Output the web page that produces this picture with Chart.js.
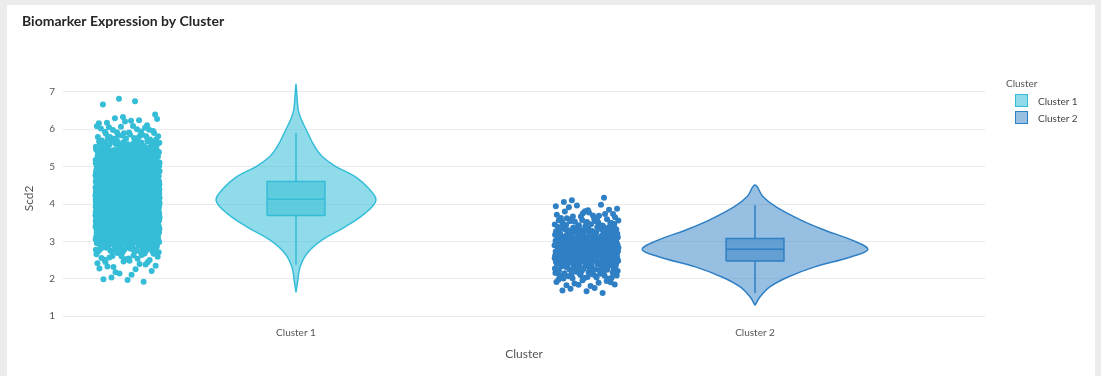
<!DOCTYPE html>
<html>
<head>
<meta charset="utf-8">
<title>Biomarker Expression by Cluster</title>
<script src="https://cdn.jsdelivr.net/npm/chart.js@4.4.1/dist/chart.umd.min.js"></script>
<style>
  html, body { margin: 0; padding: 0; background: #ececec; }
  body { width: 1101px; height: 376px; overflow: hidden; position: relative; font-family: Lato, "Open Sans", sans-serif; }
  #card { position: absolute; left: 7px; top: 5px; width: 1088px; height: 371px; background: #fff; }
  #chart { display: block; }
  #legend { position: absolute; left: 999px; top: 72px; color: #444; font-size: 10px; }
  #legend .ttl { color: #555; margin-bottom: 3px; }
  #legend .item { display: flex; align-items: center; height: 17px; padding-left: 9px; }
  #legend .swatch { width: 13px; height: 13px; box-sizing: border-box; border: 1px solid; margin-right: 10px; }
</style>
</head>
<body>
<div id="card">
  <canvas id="chart" width="1088" height="371"></canvas>
  <div id="legend"></div>
</div>
<script>
'use strict';

// categories and colours
const clusters = ['Cluster 1', 'Cluster 2'];
const clusterColors = ['#35bdd7', '#2f7fc4'];
const clusterFills = ['rgba(53,189,215,0.55)', 'rgba(47,127,196,0.5)'];

// y axis
const yTicks = [1, 2, 3, 4, 5, 6, 7];

// violin outlines: Scd2 level and half-width (in category units)
const violin1Levels = [1.64, 1.96, 2.32, 2.68, 3.04, 3.39, 3.75, 4.09, 4.38, 4.73, 5.00, 5.27, 5.53, 5.89, 6.43, 6.90, 7.21];
const violin1Widths = [0, 0.004, 0.009, 0.024, 0.057, 0.107, 0.150, 0.174, 0.161, 0.129, 0.087, 0.057, 0.041, 0.026, 0.0065, 0.002, 0];
const violin2Levels = [1.29, 1.52, 1.79, 2.05, 2.32, 2.59, 2.79, 3.04, 3.30, 3.57, 3.93, 4.20, 4.51];
const violin2Widths = [0, 0.011, 0.033, 0.072, 0.130, 0.210, 0.246, 0.210, 0.152, 0.100, 0.045, 0.017, 0];

// box stats per cluster: lower fence, q1, median, q3, upper fence
const lowerFence = [2.38, 1.62];
const q1 = [3.69, 2.48];
const median = [4.13, 2.79];
const q3 = [4.60, 3.08];
const upperFence = [5.90, 3.97];

// jittered points, counted per 0.2-wide bin
const strip1Bins = [2.0, 2.2, 2.4, 2.6, 2.8, 3.0, 3.2, 3.4, 3.6, 3.8, 4.0, 4.2, 4.4, 4.6, 4.8, 5.0, 5.2, 5.4, 5.6, 5.8, 6.0, 6.2, 6.4, 6.6, 6.8];
const strip1Counts = [4, 6, 10, 16, 35, 60, 95, 130, 170, 200, 215, 215, 200, 170, 135, 100, 75, 55, 40, 20, 14, 8, 2, 1, 2];
const strip2Bins = [1.7, 1.9, 2.1, 2.3, 2.5, 2.7, 2.9, 3.1, 3.3, 3.5, 3.7, 3.9, 4.1];
const strip2Counts = [5, 11, 24, 40, 60, 70, 68, 55, 38, 24, 14, 8, 3];

const binWidth = 0.2;
const stripOffset = -0.367;
const stripHalf = 0.07;
const boxHalf = 0.063;

// radical inverse, used to spread points evenly inside a bin
function halton(n, base) {
  let f = 1, r = 0;
  while (n > 0) {
    f /= base;
    r += f * (n % base);
    n = Math.floor(n / base);
  }
  return r;
}

function stripPoints(center, bins, counts) {
  const pts = [];
  let n = 1;
  bins.forEach(function(b, i) {
    for (let k = 0; k < counts[i]; k++, n++) {
      pts.push({
        x: center + stripOffset + (2 * halton(n, 2) - 1) * stripHalf,
        y: b - binWidth / 2 + halton(n, 3) * binWidth
      });
    }
  });
  return pts;
}

// closed outline: up the right side, back down the left
function violinOutline(center, levels, widths) {
  const right = levels.map(function(y, i) { return { x: center + widths[i], y: y }; });
  const left = levels.map(function(y, i) { return { x: center - widths[i], y: y }; }).reverse();
  return right.concat(left.slice(1));
}

const violins = [[violin1Levels, violin1Widths], [violin2Levels, violin2Widths]];
const strips = [[strip1Bins, strip1Counts], [strip2Bins, strip2Counts]];

const datasets = [];
clusters.forEach(function(name, i) {
  const c = i;
  const line = { showLine: true, pointRadius: 0, borderColor: clusterColors[i], borderWidth: 1.5 };
  datasets.push(Object.assign({
    label: name + ' median', order: 1, tension: 0,
    data: [{ x: c - boxHalf, y: median[i] }, { x: c + boxHalf, y: median[i] }]
  }, line));
  datasets.push(Object.assign({
    label: name + ' box', order: 2, tension: 0, fill: 'shape', backgroundColor: clusterFills[i],
    data: [
      { x: c - boxHalf, y: q1[i] }, { x: c + boxHalf, y: q1[i] },
      { x: c + boxHalf, y: q3[i] }, { x: c - boxHalf, y: q3[i] },
      { x: c - boxHalf, y: q1[i] }
    ]
  }, line));
  datasets.push(Object.assign({
    label: name + ' upper whisker', order: 3, tension: 0,
    data: [{ x: c, y: q3[i] }, { x: c, y: upperFence[i] }]
  }, line));
  datasets.push(Object.assign({
    label: name + ' lower whisker', order: 3, tension: 0,
    data: [{ x: c, y: lowerFence[i] }, { x: c, y: q1[i] }]
  }, line));
  datasets.push(Object.assign({
    label: name, order: 4, tension: 0.4, fill: 'shape', backgroundColor: clusterFills[i],
    data: violinOutline(c, violins[i][0], violins[i][1])
  }, line));
  datasets.push({
    label: name + ' points', order: 5,
    data: stripPoints(c, strips[i][0], strips[i][1]),
    pointRadius: 3, pointBorderWidth: 0, pointBackgroundColor: clusterColors[i],
    backgroundColor: clusterColors[i]
  });
});

const font = 'Lato, "Open Sans", sans-serif';

new Chart(document.getElementById('chart'), {
  type: 'scatter',
  data: { datasets: datasets },
  options: {
    responsive: false,
    animation: false,
    layout: { padding: { left: 15, right: 110, top: 0, bottom: 0 } },
    plugins: {
      legend: { display: false },
      tooltip: { enabled: false },
      title: {
        display: true,
        text: 'Biomarker Expression by Cluster',
        align: 'start',
        color: '#262626',
        font: { family: font, size: 14, weight: 'bold' },
        padding: { top: 8, bottom: 47 }
      }
    },
    scales: {
      x: {
        type: 'linear',
        min: -0.5076,
        max: 1.501,
        afterFit: function(scale) { scale.height = 56; },
        afterBuildTicks: function(scale) {
          scale.ticks = clusters.map(function(n, i) { return { value: i }; });
        },
        ticks: {
          color: '#555',
          font: { family: font, size: 10 },
          padding: 7,
          callback: function(v) { return clusters[v]; }
        },
        grid: { display: false, drawTicks: false },
        border: { display: false },
        title: {
          display: true, text: 'Cluster', color: '#555',
          font: { family: font, size: 12 },
          padding: { top: 0, bottom: 15 }
        }
      },
      y: {
        min: 0.9,
        max: 7.4,
        afterFit: function(scale) { scale.width = 41; },
        afterBuildTicks: function(scale) {
          scale.ticks = yTicks.map(function(v) { return { value: v }; });
        },
        ticks: { color: '#555', font: { family: font, size: 10 }, padding: 8 },
        grid: { color: '#ebebeb', lineWidth: 1, drawTicks: false },
        border: { display: false },
        title: {
          display: true, text: 'Scd2', color: '#555',
          font: { family: font, size: 12 },
          padding: { top: 0, bottom: 0 }
        }
      }
    }
  }
});

// legend built from the cluster list
const legend = document.getElementById('legend');
let html = '<div class="ttl">Cluster</div>';
clusters.forEach(function(name, i) {
  html += '<div class="item"><span class="swatch" style="background:' + clusterFills[i] +
    ';border-color:' + clusterColors[i] + '"></span>' + name + '</div>';
});
legend.innerHTML = html;
</script>
</body>
</html>
